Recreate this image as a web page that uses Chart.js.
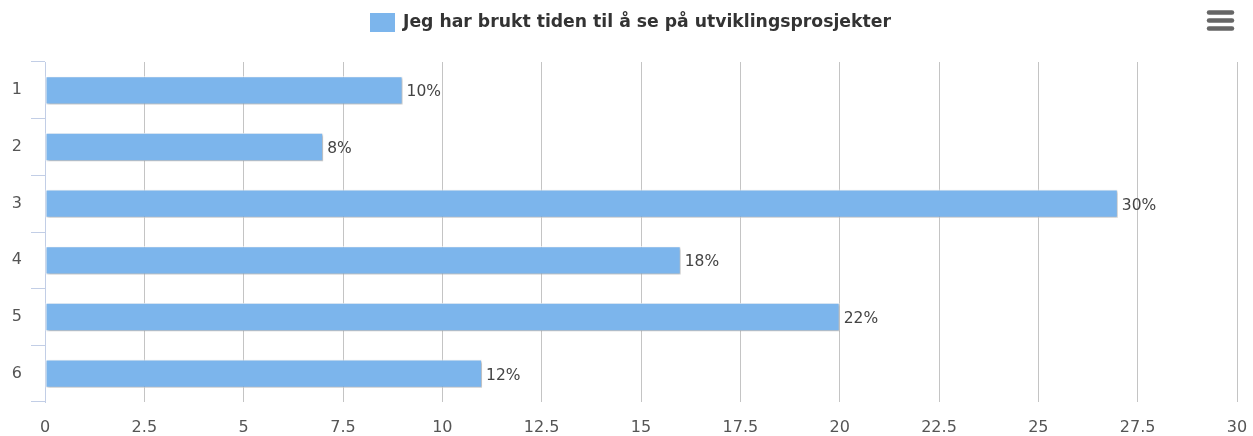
<!DOCTYPE html>
<html>
<head>
<meta charset="utf-8">
<script src="https://cdn.jsdelivr.net/npm/chart.js@4.4.1/dist/chart.umd.min.js"></script>
<style>
  html, body { margin: 0; padding: 0; background: #fff; }
  #wrap { position: relative; width: 1253px; height: 436px; }
</style>
</head>
<body>
<div id="wrap"><canvas id="c" width="1253" height="436"></canvas></div>
<script>
const categories = ["1", "2", "3", "4", "5", "6"];
const seriesName = "Jeg har brukt tiden til å se på utviklingsprosjekter";
const values = [9, 7, 27, 16, 20, 11];
const valueLabels = ["10%", "8%", "30%", "18%", "22%", "12%"];
const xTicks = [0, 2.5, 5, 7.5, 10, 12.5, 15, 17.5, 20, 22.5, 25, 27.5, 30];

const FONT = '"DejaVu Sans", Verdana, sans-serif';
const BAR_COLOR = '#7cb5ec';

const shadowPlugin = {
  id: 'barShadow',
  beforeDatasetsDraw(chart) {
    const ctx = chart.ctx;
    ctx.save();
    ctx.shadowColor = 'rgba(0,0,0,0.28)';
    ctx.shadowOffsetX = 1.5;
    ctx.shadowOffsetY = 1.5;
    ctx.shadowBlur = 2.5;
  },
  afterDatasetsDraw(chart) {
    chart.ctx.restore();
  }
};

const labelPlugin = {
  id: 'valueLabels',
  afterDatasetsDraw(chart) {
    const ctx = chart.ctx;
    const meta = chart.getDatasetMeta(0);
    ctx.save();
    ctx.font = '15.5px ' + FONT;
    ctx.fillStyle = '#444';
    ctx.textAlign = 'left';
    ctx.textBaseline = 'middle';
    meta.data.forEach((bar, i) => {
      ctx.fillText(valueLabels[i], bar.x + 4, bar.y + 2);
    });
    ctx.restore();
  }
};

const legendPlugin = {
  id: 'customLegend',
  afterDraw(chart) {
    const ctx = chart.ctx;
    ctx.save();
    ctx.font = 'bold 16px ' + FONT;
    const w16 = ctx.measureText(seriesName).width;
    const size = 16 * 488 / w16;
    ctx.font = 'bold ' + size.toFixed(2) + 'px ' + FONT;
    const boxX = 370, boxY = 13, boxW = 25, boxH = 19;
    ctx.fillStyle = BAR_COLOR;
    ctx.fillRect(boxX, boxY, boxW, boxH);
    ctx.fillStyle = '#333';
    ctx.textBaseline = 'middle';
    ctx.textAlign = 'left';
    ctx.fillText(seriesName, 403, 23);
    // menu icon
    ctx.strokeStyle = '#666';
    ctx.lineWidth = 4.5;
    ctx.lineCap = 'round';
    [12.5, 20.5, 28.5].forEach(y => {
      ctx.beginPath();
      ctx.moveTo(1209, y);
      ctx.lineTo(1232, y);
      ctx.stroke();
    });
    ctx.restore();
  }
};

new Chart(document.getElementById('c'), {
  type: 'bar',
  data: {
    labels: categories,
    datasets: [{
      label: seriesName,
      data: values,
      backgroundColor: BAR_COLOR,
      borderColor: '#ffffff',
      borderWidth: 1,
      borderSkipped: false,
      categoryPercentage: 1.0,
      barPercentage: 0.5
    }]
  },
  options: {
    indexAxis: 'y',
    responsive: false,
    animation: false,
    devicePixelRatio: 1,
    layout: { padding: { left: 0, right: 16, top: 62, bottom: 0 } },
    plugins: {
      legend: { display: false },
      tooltip: { enabled: false }
    },
    scales: {
      x: {
        type: 'linear',
        min: 0,
        max: 30,
        afterBuildTicks(scale) {
          scale.ticks = xTicks.map(v => ({ value: v }));
        },
        afterFit(scale) {
          scale.height = 34;
          scale.paddingLeft = 0;
          scale.paddingRight = 0;
        },
        grid: {
          color: '#c4c4c4',
          lineWidth: 1,
          drawTicks: false
        },
        border: { display: false },
        ticks: {
          color: '#555',
          font: { family: FONT, size: 16 },
          padding: 16,
          maxRotation: 0,
          autoSkip: false
        }
      },
      y: {
        type: 'category',
        afterFit(scale) {
          scale.width = 45;
          scale.paddingTop = 0;
          scale.paddingBottom = 0;
        },
        grid: {
          drawOnChartArea: false,
          drawTicks: true,
          tickLength: 14,
          color: '#c2cee6',
          offset: true
        },
        border: { display: true, color: '#c2cee6', width: 1 },
        ticks: {
          color: '#555',
          font: { family: FONT, size: 16 },
          padding: 9
        }
      }
    }
  },
  plugins: [shadowPlugin, labelPlugin, legendPlugin]
});
</script>
</body>
</html>
